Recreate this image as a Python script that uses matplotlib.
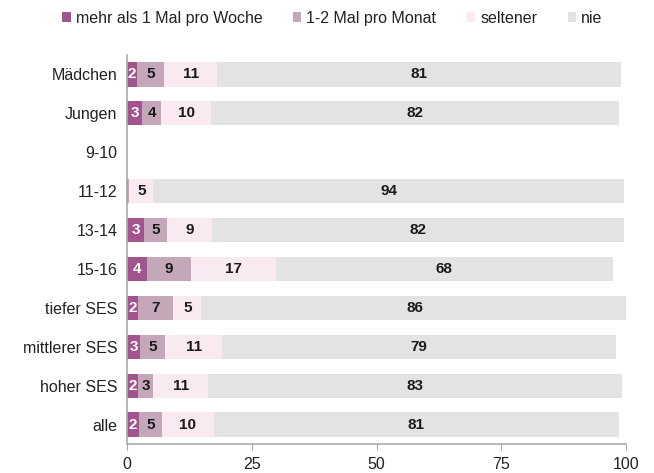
import numpy as np
import matplotlib.pyplot as plt

plt.rcParams['font.family'] = ['Liberation Sans', 'DejaVu Sans']

groups = ['Mädchen', 'Jungen', '9-10', '11-12', '13-14', '15-16',
          'tiefer SES', 'mittlerer SES', 'hoher SES', 'alle']
series = ['mehr als 1 Mal pro Woche', '1-2 Mal pro Monat', 'seltener', 'nie']

# values (9-10 has no data)
woche = [2.0, 3.1, 0, 0.3, 3.4, 4.0, 2.3, 2.7, 2.3, 2.4]
monat = [5.4, 3.8, 0, 0.2, 4.6, 8.9, 7.0, 5.0, 3.0, 4.6]
selten = [10.7, 10.0, 0, 4.8, 9.1, 16.9, 5.6, 11.4, 11.0, 10.4]
nie = [80.8, 81.6, 0, 94.3, 82.5, 67.6, 85.6, 78.9, 82.9, 81.2]

# shown labels (None = no label)
lab_woche = [2, 3, None, None, 3, 4, 2, 3, 2, 2]
lab_monat = [5, 4, None, None, 5, 9, 7, 5, 3, 5]
lab_selten = [11, 10, None, 5, 9, 17, 5, 11, 11, 10]
lab_nie = [81, 82, None, 94, 82, 68, 86, 79, 83, 81]

colors = ['#a3548f', '#c4a8b9', '#f9e9f1', '#e3e3e3']
txt_colors = ['white', '#1a1a1a', '#1a1a1a', '#1a1a1a']

fig = plt.figure(figsize=(6.54, 4.73), dpi=100)
ax = fig.add_axes([127 / 654, 1 - 444 / 473, (626 - 127) / 654, (444 - 55) / 473])

y = np.arange(len(groups))
left = np.zeros(len(groups))
for vals, labs, col, tc, name in zip([woche, monat, selten, nie],
                                     [lab_woche, lab_monat, lab_selten, lab_nie],
                                     colors, txt_colors, series):
    vals = np.array(vals)
    ax.barh(y, vals, left=left, height=0.62, color=col, label=name)
    for i, (v, l) in enumerate(zip(vals, labs)):
        if l is not None:
            ax.text(left[i] + v / 2, y[i], str(l), ha='center', va='center',
                    color=tc, fontsize=11, fontweight='bold')
    left += vals

ax.set_ylim(len(groups) - 0.5, -0.5)
ax.set_xlim(0, 100)
ax.set_yticks(y)
ax.set_yticklabels(groups, fontsize=11.5, color='#222222')
ax.set_xticks([0, 25, 50, 75, 100])
ax.tick_params(axis='y', length=0, pad=7)
ax.tick_params(axis='x', length=4, color='#aaaaaa', labelsize=11.5,
               labelcolor='#222222', pad=5)
for s in ['top', 'right']:
    ax.spines[s].set_visible(False)
for s in ['left', 'bottom']:
    ax.spines[s].set_color('#aaaaaa')
    ax.spines[s].set_linewidth(1.2)

fig.legend(loc='upper center', bbox_to_anchor=(0.508, 1.008), ncol=4, frameon=False,
           fontsize=11.5, handlelength=0.55, handleheight=0.55, handletextpad=0.3,
           columnspacing=1.9, labelcolor='#222222')

plt.savefig('out.png', dpi=100)
